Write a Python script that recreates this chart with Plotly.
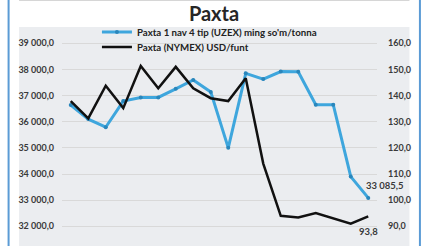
import plotly.graph_objects as go

categories = ["p%02d" % i for i in range(1, 19)]
uzex = [36640, 36100, 35790, 36790, 36930, 36930, 37260, 37600, 37140, 35000,
        37850, 37630, 37920, 37910, 36650, 36650, 33900, 33085.5]
nymex = [137.9, 131.3, 143.8, 135.2, 151.3, 142.8, 151.0, 142.8, 139.0, 137.9,
         146.6, 114.0, 94.0, 93.4, 95.1, 92.9, 91.0, 93.8]
left_ticks = [32000, 33000, 34000, 35000, 36000, 37000, 38000, 39000]
left_text = ["32 000,0", "33 000,0", "34 000,0", "35 000,0", "36 000,0", "37 000,0", "38 000,0", "39 000,0"]
right_ticks = [90, 100, 110, 120, 130, 140, 150, 160]
right_text = ["90,0", "100,0", "110,0", "120,0", "130,0", "140,0", "150,0", "160,0"]
name_uzex = "Paxta 1 nav 4 tip (UZEX) ming so'm/tonna"
name_nymex = "Paxta (NYMEX) USD/funt"
label_uzex = "33 085,5"
label_nymex = "93,8"

BLUE = "#3ea6dd"
FONT = "Lato"
TXT = "#3a3a3a"
GRAY = "#ebedf0"

fig = go.Figure()
fig.add_trace(go.Scatter(x=categories, y=uzex, name=name_uzex, mode="lines+markers",
                         line=dict(color=BLUE, width=3),
                         marker=dict(size=4, color="#2a86bb"), legend="legend"))
fig.add_trace(go.Scatter(x=categories, y=nymex, name=name_nymex, mode="lines",
                         line=dict(color="#111111", width=2.5), yaxis="y2", legend="legend2"))

fig.add_annotation(x=categories[-1], y=uzex[-1], text=label_uzex, showarrow=False,
                   xanchor="left", yanchor="middle", xshift=-4, yshift=12,
                   font=dict(family=FONT, size=9.5, color=TXT, weight="bold"))
fig.add_annotation(x=categories[-1], y=nymex[-1], yref="y2", text=label_nymex, showarrow=False,
                   xanchor="center", yanchor="middle", xshift=0, yshift=-15,
                   font=dict(family=FONT, size=9.5, color=TXT, weight="bold"))

L, R, T, B = 62, 50.5, 27, 0
W = 428 - L - R
H = 246 - T - B
def px(x):
    return (x - L) / W
def py(y):
    return (246 - B - y) / H

shapes = [
    dict(type="rect", xref="paper", yref="paper", x0=px(19), x1=px(410), y0=-0.05, y1=1,
         fillcolor=GRAY, line=dict(width=0), layer="below"),
    dict(type="line", xref="paper", yref="paper", x0=px(8.5), x1=px(8.5), y0=-0.1, y1=1.2,
         line=dict(color="#5b9bd5", width=2)),
    dict(type="line", xref="paper", yref="paper", x0=px(420.5), x1=px(420.5), y0=-0.1, y1=1.2,
         line=dict(color="#5b9bd5", width=2)),
    dict(type="line", xref="paper", yref="paper", x0=px(19), x1=px(410), y0=py(0.5), y1=py(0.5),
         line=dict(color="#d6d6d6", width=1)),
]

legfont = dict(family=FONT, size=9.7, color="#222222", weight="bold")
fig.update_layout(
    width=428, height=246,
    margin=dict(l=L, r=R, t=T, b=B, autoexpand=False),
    paper_bgcolor="white", plot_bgcolor=GRAY,
    shapes=shapes,
    title=dict(text="<b>Paxta</b>", x=0.5, xref="container", xanchor="center",
               y=1 - 14 / 246, yref="container", yanchor="middle",
               font=dict(family=FONT, size=20, color="#262626")),
    showlegend=True,
    legend=dict(x=px(97), y=py(32), xanchor="left", yanchor="middle",
                bgcolor="rgba(0,0,0,0)", itemwidth=30, font=legfont),
    legend2=dict(x=px(97), y=py(47), xanchor="left", yanchor="middle",
                 bgcolor="rgba(0,0,0,0)", itemwidth=30, font=legfont),
    xaxis=dict(type="category", range=[-0.5, 17.5], showticklabels=False, showgrid=False,
               zeroline=False, showline=False, automargin=False),
    yaxis=dict(range=[31245.6, 39623.6], tickvals=left_ticks, ticktext=left_text,
               showgrid=True, gridcolor="#d9d9d9", gridwidth=1, zeroline=False,
               ticks="", ticklabelstandoff=7, automargin=False,
               tickfont=dict(family=FONT, size=9, color=TXT, weight="bold")),
    yaxis2=dict(range=[82.46, 166.24], tickvals=right_ticks, ticktext=right_text,
                overlaying="y", side="right", showgrid=False, zeroline=False,
                ticks="", ticklabelstandoff=10, automargin=False,
                tickfont=dict(family=FONT, size=9, color=TXT, weight="bold")),
)

fig.write_html("out.html", config={"displayModeBar": False},
               post_script="document.body.style.margin='0';")
